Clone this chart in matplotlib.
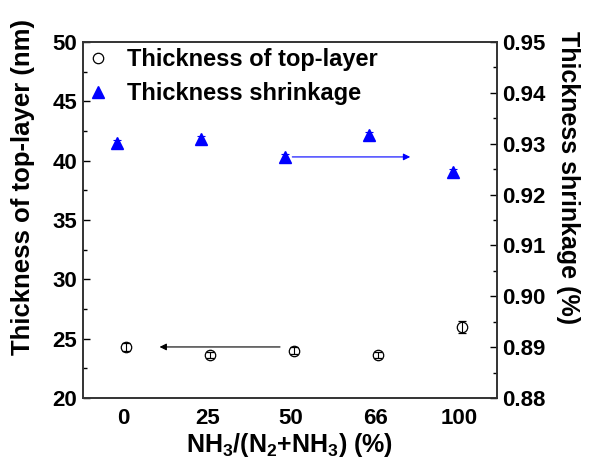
import matplotlib
matplotlib.use("Agg")
import matplotlib.pyplot as plt

plt.rcParams["font.family"] = "Liberation Sans"
plt.rcParams["font.weight"] = "bold"
plt.rcParams["axes.labelweight"] = "bold"
plt.rcParams["mathtext.fontset"] = "custom"
plt.rcParams["mathtext.rm"] = "Liberation Sans:bold"
plt.rcParams["mathtext.it"] = "Liberation Sans:bold"
plt.rcParams["mathtext.bf"] = "Liberation Sans:bold"

categories = ["0", "25", "50", "66", "100"]
top_layer = [24.3, 23.6, 24.0, 23.6, 26.0]
top_layer_err = [0.3, 0.25, 0.3, 0.25, 0.5]
shrinkage = [0.9301, 0.9309, 0.9274, 0.9317, 0.9245]
shrinkage_err = [0.0006, 0.0006, 0.0006, 0.0006, 0.0006]

pos = list(range(len(categories)))

fig = plt.figure(figsize=(5.92, 4.61), dpi=100)
ax = fig.add_axes([0.140, 0.1367, 0.6995, 0.7722])
ax2 = ax.twinx()

l1 = ax.errorbar([p + 0.03 for p in pos], top_layer, yerr=top_layer_err, fmt="o",
                 mfc="none", mec="black", ecolor="black", ms=7.5, mew=0.9,
                 elinewidth=0.8, capsize=3, capthick=0.8)
l2 = ax2.errorbar([p - 0.07 for p in pos], shrinkage, yerr=shrinkage_err, fmt="^",
                  color="blue", ms=8.5, elinewidth=0.8, capsize=3, capthick=0.8)

ax.set_xlim(-0.48, 4.45)
ax.set_ylim(20, 50)
ax2.set_ylim(0.88, 0.95)

ax.set_xticks(pos)
ax.set_xticklabels(categories)
ax.set_yticks([20, 25, 30, 35, 40, 45, 50])
ax.set_yticks([22.5, 27.5, 32.5, 37.5, 42.5, 47.5], minor=True)
ax2.set_yticks([0.88, 0.89, 0.90, 0.91, 0.92, 0.93, 0.94, 0.95])
ax2.set_yticklabels(["%.2f" % v for v in ax2.get_yticks()])
ax2.set_yticks([0.885, 0.895, 0.905, 0.915, 0.925, 0.935, 0.945], minor=True)

ax.tick_params(axis="x", length=0, labelsize=16, pad=7)
ax.tick_params(axis="y", which="major", direction="in", length=5, width=1, labelsize=16, pad=4)
ax.tick_params(axis="y", which="minor", direction="in", length=3, width=1)
ax2.tick_params(axis="y", which="major", direction="in", length=5, width=1, labelsize=16, pad=4)
ax2.tick_params(axis="y", which="minor", direction="in", length=3, width=1)

for a in (ax, ax2):
    for s in a.spines.values():
        s.set_linewidth(1.2)
        s.set_color("#333333")

ax.set_xlabel("NH$_3$/(N$_2$+NH$_3$) (%)", fontsize=18, labelpad=2)
ax.set_ylabel("Thickness of top-layer (nm)", fontsize=18.5, va="center")
ax.yaxis.set_label_coords(-0.145, 0.593)
ax2.set_ylabel("Thickness shrinkage (%)", fontsize=18, rotation=270, va="center")
ax2.yaxis.set_label_coords(1.171, 0.618)

ax.annotate("", xy=(0.4, 24.3), xytext=(1.9, 24.3),
            arrowprops=dict(arrowstyle="-|>", color="black", lw=0.8, mutation_scale=10))
ax2.annotate("", xy=(3.45, 0.9274), xytext=(1.98, 0.9274),
             arrowprops=dict(arrowstyle="-|>", color="blue", lw=0.8, mutation_scale=10))

ax.legend([l1[0], l2[0]], ["Thickness of top-layer", "Thickness shrinkage"],
          loc="upper left", frameon=False, fontsize=17, handlelength=1.0,
          handletextpad=0.7, borderaxespad=0.1, labelspacing=0.45,
          bbox_to_anchor=(-0.02, 1.015))

fig.savefig("out.png", dpi=100)
